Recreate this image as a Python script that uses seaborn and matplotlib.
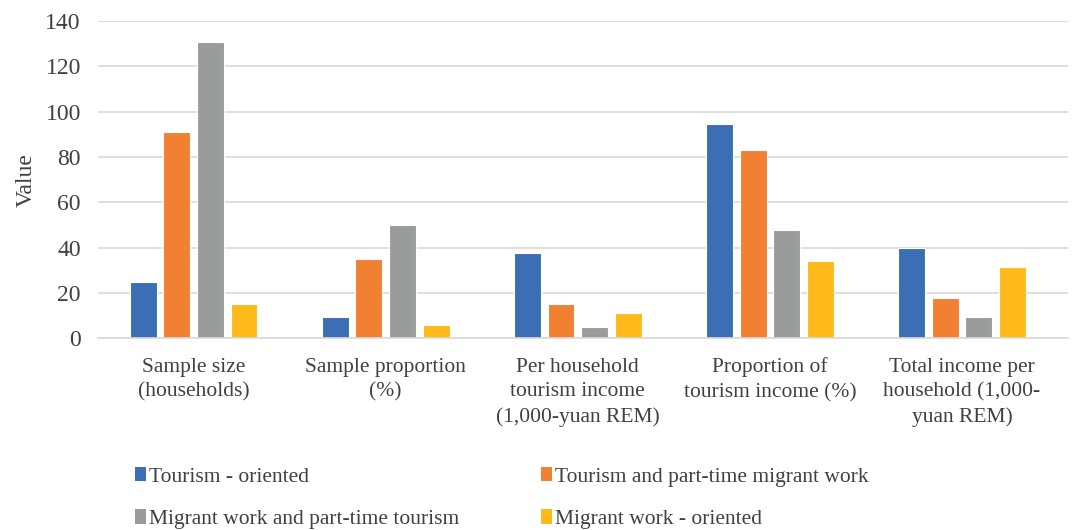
import numpy as np
import pandas as pd
import seaborn as sns
from matplotlib import pyplot as plt
from matplotlib.patches import Patch

categories = [
    "Sample size\n(households)",
    "Sample proportion\n(%)",
    "Per household\ntourism income\n(1,000-yuan REM)",
    "Proportion of\ntourism income (%)",
    "Total income per\nhousehold (1,000-\nyuan REM)",
]
series = [
    "Tourism - oriented",
    "Tourism and part-time migrant work",
    "Migrant work and part-time tourism",
    "Migrant work - oriented",
]
tourism_oriented = [25, 9.3, 37.5, 94.8, 39.7]
tourism_parttime = [91, 35, 15, 83, 17.7]
migrant_parttime = [131, 50, 4.7, 47.8, 9.3]
migrant_oriented = [15, 6, 11, 34.2, 31.4]
colors = ["#3C6EB4", "#F28033", "#9A9C9C", "#FDBA1A"]


def main():
    values = [tourism_oriented, tourism_parttime, migrant_parttime, migrant_oriented]
    rows = []
    for s, vals in zip(series, values):
        for c, v in zip(categories, vals):
            rows.append({"category": c, "series": s, "value": v})
    df = pd.DataFrame(rows)

    sns.set_style("white")
    plt.rcParams['font.family'] = ['Liberation Serif', 'DejaVu Serif']

    fig = plt.figure(figsize=(10.72, 5.30), dpi=100)
    ax = fig.add_axes([0.091, 0.362, 0.905, 0.598])

    sns.barplot(data=df, x="category", y="value", hue="series",
                order=categories, hue_order=series, palette=colors,
                width=0.7, gap=0.2, edgecolor="white", linewidth=0.8,
                saturation=1, legend=False, ax=ax)

    ax.set_ylim(0, 140)
    ax.set_yticks(np.arange(0, 141, 20))
    ax.set_xlim(-0.5, 4.55)
    ax.yaxis.grid(True, color="#D9D9D9", linewidth=1.2)
    ax.set_axisbelow(True)
    for side in ["top", "right", "left"]:
        ax.spines[side].set_visible(False)
    ax.spines["bottom"].set_color("#D9D9D9")
    ax.spines["bottom"].set_linewidth(1.2)
    ax.tick_params(axis="both", length=0, colors="#404040")
    ax.tick_params(axis="y", labelsize=17, pad=12)
    ax.tick_params(axis="x", labelsize=15.5, pad=14)
    ax.set_xlabel("")
    ax.set_ylabel("Value", fontsize=17, color="#404040", labelpad=6)
    for lab in ax.get_xticklabels():
        lab.set_linespacing(1.4)

    # legend fills column-wise, so reorder to read row-wise like the original
    order = [0, 2, 1, 3]
    handles = [Patch(facecolor=colors[i], edgecolor="none") for i in order]
    labels = [series[i] for i in order]
    fig.legend(handles, labels, loc="lower left", bbox_to_anchor=(0.108, -0.035),
               ncol=2, frameon=False, fontsize=15.5, handlelength=0.5,
               handleheight=0.65, handletextpad=0.15, columnspacing=3.8,
               labelspacing=1.05, labelcolor="#404040")

    fig.savefig("out.png", dpi=100)


if __name__ == "__main__":
    main()
